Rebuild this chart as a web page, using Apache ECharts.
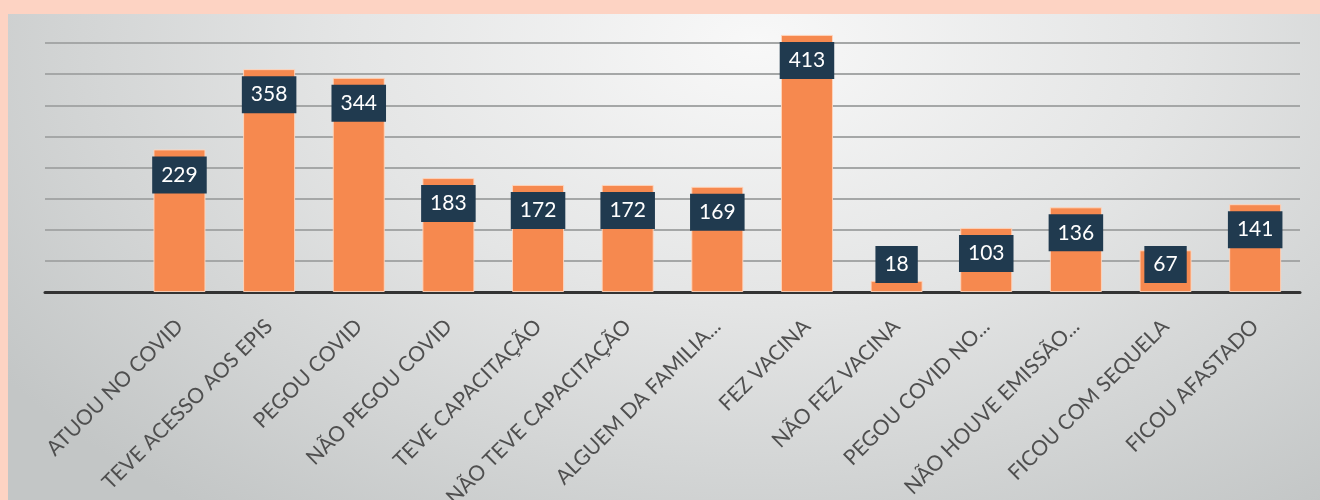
<!DOCTYPE html>
<html>
<head>
<meta charset="utf-8">
<script src="https://cdn.jsdelivr.net/npm/echarts@6/dist/echarts.min.js"></script>
<style>
    html, body { margin: 0; padding: 0; }
    body {
        width: 1320px;
        height: 500px;
        background: #fdd3c3;
        position: relative;
        overflow: hidden;
    }
    #main {
        position: absolute;
        left: 8px;
        top: 14px;
        width: 1312px;
        height: 486px;
        background: radial-gradient(ellipse 70% 120% at 57% 6%, #f8f8f8 0%, #e4e5e5 45%, #c3c6c6 100%);
    }
</style>
</head>
<body>
<div id="main"></div>
<script>
// categorias (a primeira fica vazia, como no original)
var categorias = ['', 'ATUOU NO COVID', 'TEVE ACESSO AOS EPIS', 'PEGOU COVID', 'NÃO PEGOU COVID',
    'TEVE CAPACITAÇÃO', 'NÃO TEVE CAPACITAÇÃO', 'ALGUEM DA FAMILIA...', 'FEZ VACINA',
    'NÃO FEZ VACINA', 'PEGOU COVID NO...', 'NÃO HOUVE EMISSÃO...', 'FICOU COM SEQUELA', 'FICOU AFASTADO'];
var valores = [null, 229, 358, 344, 183, 172, 172, 169, 413, 18, 103, 136, 67, 141];

var myChart = echarts.init(document.getElementById('main'));

// barras pequenas: rótulo fica apoiado perto da base
var dados = valores.map(function (v) {
    if (v === null) return null;
    if (v < 85) {
        return { value: v, label: { position: 'insideBottom', distance: 9 } };
    }
    return { value: v };
});

var option = {
    animation: false,
    grid: {
        left: 37,
        right: 20,
        top: 29,
        bottom: 208,
        containLabel: false,
        outerBoundsMode: 'none'
    },
    xAxis: {
        type: 'category',
        data: categorias,
        axisTick: { show: false },
        axisLine: { lineStyle: { color: '#333333', width: 3 } },
        axisLabel: {
            interval: 0,
            rotate: 45,
            margin: 31,
            color: '#4f4f4f',
            fontSize: 21,
            fontFamily: 'Lato'
        }
    },
    yAxis: {
        type: 'value',
        min: 0,
        max: 400,
        interval: 50,
        axisLabel: { show: false },
        axisLine: { show: false },
        axisTick: { show: false },
        splitLine: { lineStyle: { color: '#a5a7a7', width: 2 } }
    },
    series: [{
        type: 'bar',
        data: dados,
        barWidth: 52,
        clip: false,
        itemStyle: {
            color: '#f6894f',
            borderColor: 'rgba(255,214,190,0.9)',
            borderWidth: 1
        },
        label: {
            show: true,
            position: 'insideTop',
            distance: 7,
            color: '#ffffff',
            fontSize: 21,
            fontFamily: 'Lato',
            lineHeight: 21,
            backgroundColor: '#203a4f',
            padding: [8, 9, 8, 9]
        }
    }]
};

myChart.setOption(option);
</script>
</body>
</html>
